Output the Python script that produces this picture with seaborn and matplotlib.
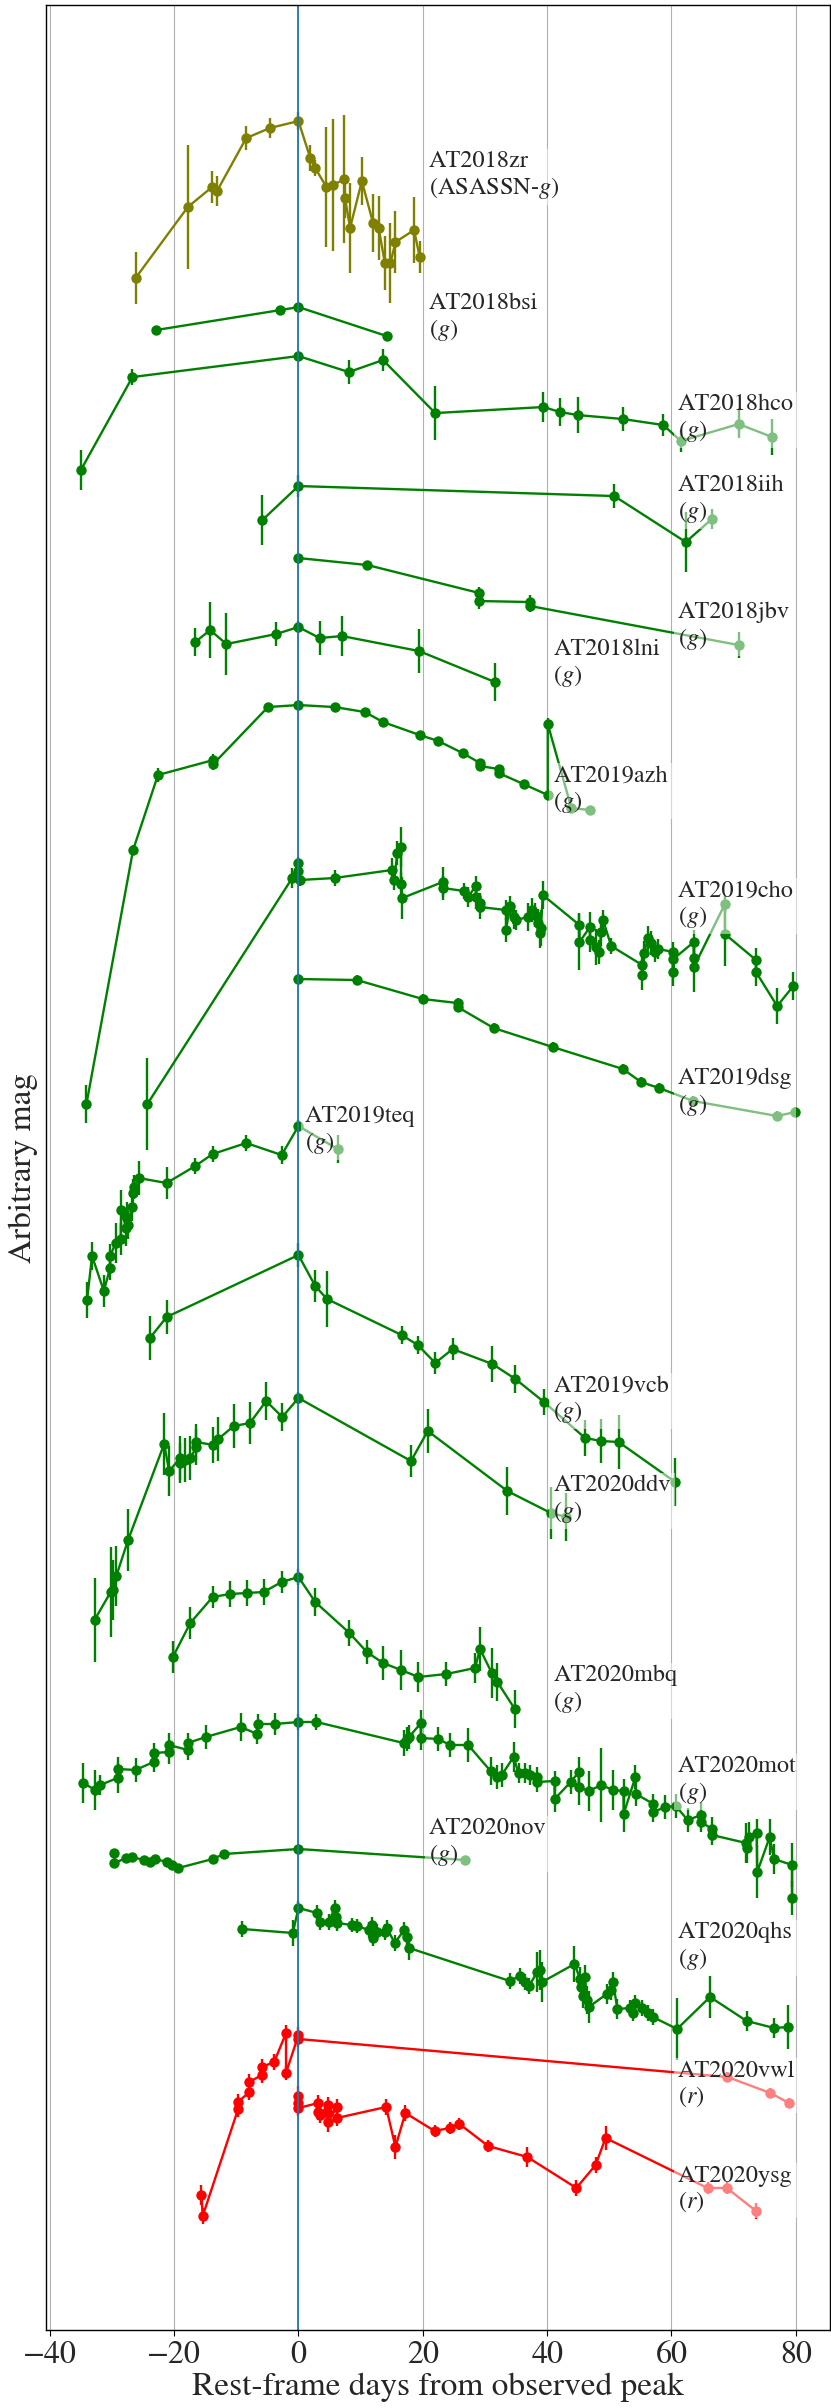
import matplotlib
matplotlib.use("Agg")
import matplotlib.pyplot as plt
import seaborn as sns

# light curves: rest-frame days from peak, arbitrary mag (offset per object), error

zr_t = [-26.2, -17.8, -13.9, -13.1, -8.4, -4.6, 0.0, 1.9, 2.7, 4.5, 5.6, 7.4, 7.5, 8.3, 10.2, 12.0, 12.9, 13.9, 14.8, 15.6, 18.6, 19.5]
zr_m = [278, 207, 187, 191, 138, 128, 121, 158, 168, 187, 185, 179, 198, 228, 181, 223, 228, 263, 263, 242, 230, 257]
zr_e = [26, 62, 16, 15, 12, 10, 9, 13, 8, 60, 66, 64, 20, 45, 24, 29, 32, 27, 40, 31, 33, 16]

bsi_t = [-22.9, -2.9, 0.0, 14.2]
bsi_m = [330, 310, 307, 336]
bsi_e = [3, 3, 3, 3]

hco_t = [-35.0, -26.7, 0.0, 8.1, 13.6, 22.0, 39.4, 42.1, 44.9, 52.2, 58.7, 61.5, 70.8, 76.2]
hco_m = [470, 377, 356, 372, 360, 413, 407, 412, 415, 419, 425, 441, 424, 437]
hco_e = [20, 8, 4, 12, 11, 27, 15, 14, 18, 12, 11, 11, 14, 18]

iih_t = [-5.8, 0.0, 50.8, 62.3, 66.5]
iih_m = [520, 486, 496, 542, 519]
iih_e = [25, 11, 12, 30, 10]

jbv_t = [0.0, 11.1, 29.1, 29.1, 37.3, 37.3, 70.8]
jbv_m = [558, 565, 593, 601, 602, 606, 645]
jbv_e = [4, 4, 6, 8, 7, 6, 13]

lni_t = [-16.6, -14.2, -11.6, -3.6, 0.0, 3.4, 7.0, 19.4, 31.6]
lni_m = [642, 630, 644, 634, 627, 638, 636, 651, 682]
lni_e = [14, 28, 31, 12, 6, 17, 20, 22, 19]

azh_t = [-34.1, -26.6, -22.6, -13.7, -13.7, -4.9, 0.0, 5.8, 10.7, 13.6, 19.5, 22.5, 26.4, 29.2, 29.2, 32.2, 32.2, 36.2, 40.1, 40.1, 43.9, 46.9]
azh_m = [1104, 850, 775, 760, 764, 707, 705, 707, 712, 722, 735, 741, 753, 763, 766, 769, 773, 784, 795, 724, 808, 810]
azh_e = [19, 5, 7, 6, 6, 4, 4, 4, 4, 4, 4, 4, 4, 4, 4, 4, 4, 4, 4, 6, 4, 4]

cho_t = [-24.3, -1.0, 0.0, 0.0, 0.2, 5.8, 15.0, 15.4, 15.9, 16.5, 16.5, 16.7, 23.2, 23.2, 26.7, 27.3, 28.5, 28.6,
         29.2, 29.2, 33.4, 33.4, 34.0, 34.7, 35.0, 36.9, 37.6, 38.0, 38.6, 38.8, 39.0, 39.3, 45.2, 45.2, 46.9,
         46.9, 47.8, 48.4, 48.7, 49.0, 50.3, 55.3, 55.3, 55.6, 56.2, 56.7, 57.3, 57.9, 60.3, 60.3, 60.3, 63.6,
         63.6, 63.6, 68.6, 68.6, 73.6, 73.6, 77.0, 79.6]
cho_m = [1104, 878, 863, 871, 880, 878, 870, 880, 853, 847, 884, 898, 882, 888, 891, 897, 886, 897,
         903, 907, 910, 930, 906, 917, 920, 917, 910, 915, 923, 933, 928, 895, 925, 942, 927,
         940, 947, 952, 932, 920, 946, 965, 975, 953, 938, 943, 952, 949, 952, 972, 959, 942,
         958, 967, 904, 934, 960, 972, 1006, 986]
cho_e = [46, 10, 6, 6, 6, 8, 12, 10, 12, 20, 12, 21, 15, 12, 8, 10, 10, 12,
         10, 12, 10, 12, 10, 12, 10, 14, 12, 12, 14, 15, 18, 14, 12, 28, 15,
         12, 18, 12, 14, 10, 8, 12, 15, 12, 12, 12, 10, 10, 10, 14, 10, 12,
         14, 25, 8, 32, 12, 14, 18, 14]

dsg_t = [0.0, 9.4, 20.0, 25.6, 25.6, 31.4, 40.9, 52.2, 55.1, 58.0, 63.5, 77.0, 79.9]
dsg_m = [979, 980, 999, 1003, 1007, 1028, 1047, 1069, 1082, 1088, 1101, 1116, 1112]
dsg_e = [5, 5, 5, 5, 5, 5, 5, 5, 5, 5, 5, 5, 5]

teq_t = [-34.0, -33.2, -31.3, -30.3, -30.3, -29.4, -28.6, -28.5, -27.7, -27.6, -27.4, -26.8, -26.6, -26.4, -25.7, -21.2, -16.6, -13.8, -8.4, -2.7, 0.0, 6.3]
teq_m = [1300, 1256, 1291, 1268, 1256, 1243, 1239, 1210, 1228, 1218, 1225, 1207, 1193, 1187, 1178, 1183, 1166, 1154, 1143, 1155, 1126, 1149]
teq_e = [18, 14, 16, 12, 12, 20, 16, 20, 18, 16, 14, 14, 14, 12, 17, 16, 8, 8, 8, 9, 6, 14]

vcb_t = [-23.9, -21.2, 0.0, 2.7, 4.6, 16.6, 19.2, 22.0, 24.8, 31.2, 34.9, 39.5, 46.1, 48.7, 51.5, 60.6]
vcb_m = [1338, 1317, 1255, 1286, 1299, 1335, 1345, 1363, 1349, 1364, 1379, 1402, 1438, 1441, 1442, 1482]
vcb_e = [22, 17, 12, 16, 28, 9, 9, 11, 11, 18, 14, 13, 18, 22, 27, 24]

ddv_t = [-32.8, -30.2, -29.9, -29.3, -27.4, -21.6, -20.8, -19.0, -19.0, -18.2, -17.4, -16.4, -16.4, -13.7, -12.9, -10.4, -7.8, -5.2, -2.6, 0.0, 18.1, 20.8, 33.6, 40.6, 43.1]
ddv_m = [1620, 1592, 1590, 1576, 1540, 1444, 1471, 1458, 1463, 1460, 1458, 1447, 1442, 1445, 1439, 1426, 1423, 1401, 1417, 1398, 1461, 1431, 1491, 1513, 1517]
ddv_e = [42, 45, 30, 30, 31, 31, 25, 22, 20, 22, 22, 18, 18, 18, 22, 22, 21, 19, 14, 6, 16, 22, 24, 26, 24]

mbq_t = [-20.2, -17.4, -13.8, -11.0, -8.3, -5.6, -2.7, 0.0, 2.7, 8.2, 11.0, 13.6, 16.5, 19.3, 23.8, 28.4, 29.2, 31.1, 32.0, 34.8]
mbq_m = [1657, 1623, 1597, 1594, 1593, 1592, 1582, 1577, 1602, 1633, 1652, 1663, 1670, 1677, 1674, 1668, 1649, 1673, 1682, 1709]
mbq_e = [16, 16, 11, 13, 13, 13, 11, 8, 14, 13, 12, 17, 20, 15, 12, 15, 22, 25, 19, 19]

mot_t = [-34.6, -32.7, -31.9, -29.1, -29.0, -26.2, -23.3, -23.3, -20.8, -20.8, -17.8, -17.8, -14.9, -9.3, -6.6,
         -6.5, -3.8, 0.0, 2.9, 16.9, 17.4, 17.8, 19.7, 19.7, 22.5, 24.4, 27.3, 30.9, 32.0, 32.7, 34.6, 35.4,
         36.5, 37.2, 38.3, 38.4, 41.2, 41.2, 43.8, 45.1, 45.1, 46.7, 48.7, 50.6, 52.3, 52.3, 54.2, 54.3, 57.1,
         57.1, 59.0, 60.7, 62.6, 64.8, 64.8, 66.5, 66.5, 72.0, 72.2, 72.4, 73.7, 73.8, 75.8, 76.5, 79.4, 79.4]
mot_m = [1783, 1790, 1785, 1778, 1769, 1770, 1762, 1753, 1752, 1745, 1750, 1743, 1737, 1727, 1734,
         1724, 1724, 1722, 1722, 1743, 1739, 1737, 1723, 1738, 1739, 1745, 1745, 1771, 1777, 1775, 1757, 1773,
         1773, 1775, 1777, 1782, 1781, 1799, 1782, 1772, 1787, 1791, 1785, 1790, 1791, 1814, 1777, 1794, 1804,
         1812, 1807, 1806, 1820, 1815, 1822, 1829, 1835, 1843, 1848, 1837, 1833, 1872, 1837, 1859, 1865, 1898]
mot_e = [20, 20, 10, 15, 12, 12, 10, 10, 12, 12, 10, 10, 12, 14, 10,
         10, 11, 8, 8, 13, 12, 12, 13, 12, 12, 12, 17, 14, 12, 12, 15, 10,
         10, 10, 10, 10, 10, 13, 12, 15, 18, 20, 37, 20, 12, 18, 12, 12, 10,
         10, 12, 12, 12, 13, 10, 12, 10, 20, 15, 15, 14, 26, 18, 15, 22, 17]

nov_t = [-29.6, -29.6, -27.7, -26.8, -24.9, -23.9, -23.0, -21.2, -20.4, -19.3, -13.8, -12.0, 0.0, 26.8]
nov_m = [1853, 1863, 1858, 1857, 1860, 1862, 1859, 1862, 1865, 1868, 1859, 1854, 1849, 1860]
nov_e = [4, 4, 4, 4, 4, 4, 4, 4, 4, 4, 4, 4, 4, 4]

qhs_t = [-9.0, -0.9, 0.0, 3.0, 3.5, 4.9, 5.8, 6.0, 6.2, 8.6, 9.4, 11.3, 11.9, 12.0, 12.7, 13.9, 14.2, 15.5, 17.0,
         17.4, 17.8, 34.0, 35.6, 36.4, 37.1, 38.4, 38.8, 39.2, 44.4, 45.3, 45.5, 45.7, 46.1, 46.4, 46.7, 49.6,
         50.2, 50.6, 51.3, 53.3, 53.8, 54.2, 55.3, 56.2, 57.0, 60.9, 66.2, 72.1, 76.5, 78.8]
qhs_m = [1929, 1933, 1908, 1913, 1922, 1922, 1908, 1917, 1923, 1925, 1926, 1930, 1925, 1938, 1932, 1932, 1928, 1943, 1930,
         1937, 1948, 1981, 1976, 1982, 1986, 1972, 1970, 1982, 1964, 1979, 1987, 1996, 1977, 2000, 2007, 1994,
         1990, 1982, 2009, 2008, 2013, 2003, 2008, 2013, 2017, 2029, 1997, 2021, 2028, 2027]
qhs_e = [8, 13, 7, 8, 8, 8, 8, 8, 8, 7, 7, 8, 8, 8, 8, 8, 8, 8, 8,
         8, 12, 8, 8, 8, 8, 20, 20, 20, 18, 12, 12, 12, 12, 14, 16, 10,
         10, 10, 10, 8, 8, 8, 8, 8, 8, 31, 21, 10, 10, 22]

vwl_t = [-15.6, -15.4, -9.7, -9.7, -7.9, -7.9, -5.9, -5.9, -3.9, -2.0, -2.0, 0.0, 0.0, 69.0, 75.9, 78.9]
vwl_m = [2195, 2216, 2109, 2102, 2092, 2082, 2075, 2067, 2062, 2033, 2073, 2035, 2039, 2077, 2093, 2103]
vwl_e = [10, 8, 8, 8, 8, 8, 8, 8, 8, 8, 7, 8, 8, 5, 5, 5]

ysg_t = [0.0, 0.0, 0.0, 3.2, 3.2, 3.5, 4.7, 4.7, 4.7, 6.2, 6.2, 14.1, 15.6, 17.2, 21.9, 24.3, 25.9, 30.5, 36.8, 44.7, 47.8, 49.4, 65.8, 68.9, 73.6]
ysg_m = [2096, 2103, 2108, 2103, 2112, 2115, 2105, 2113, 2122, 2107, 2118, 2107, 2147, 2113, 2131, 2128, 2124, 2146, 2157, 2188, 2165, 2138, 2188, 2188, 2211]
ysg_e = [10, 8, 8, 8, 8, 8, 8, 8, 10, 8, 8, 8, 12, 8, 6, 6, 6, 6, 10, 8, 8, 12, 6, 6, 8]

names = ["AT2018zr", "AT2018bsi", "AT2018hco", "AT2018iih", "AT2018jbv", "AT2018lni", "AT2019azh",
         "AT2019cho", "AT2019dsg", "AT2019teq", "AT2019vcb", "AT2020ddv", "AT2020mbq", "AT2020mot",
         "AT2020nov", "AT2020qhs", "AT2020vwl", "AT2020ysg"]
bands = ["ASASSN-g", "g", "g", "g", "g", "g", "g", "g", "g", "g", "g", "g", "g", "g", "g", "g", "r", "r"]

curves = [(zr_t, zr_m, zr_e), (bsi_t, bsi_m, bsi_e), (hco_t, hco_m, hco_e), (iih_t, iih_m, iih_e),
          (jbv_t, jbv_m, jbv_e), (lni_t, lni_m, lni_e), (azh_t, azh_m, azh_e), (cho_t, cho_m, cho_e),
          (dsg_t, dsg_m, dsg_e), (teq_t, teq_m, teq_e), (vcb_t, vcb_m, vcb_e), (ddv_t, ddv_m, ddv_e),
          (mbq_t, mbq_m, mbq_e), (mot_t, mot_m, mot_e), (nov_t, nov_m, nov_e), (qhs_t, qhs_m, qhs_e),
          (vwl_t, vwl_m, vwl_e), (ysg_t, ysg_m, ysg_e)]

# where each name tag sits (days, mag)
label_x = [21, 21, 61, 61, 61, 41, 41, 61, 61, 1, 41, 41, 41, 61, 21, 61, 61, 61]
label_y = [176, 318, 419, 500, 627, 664, 790, 905, 1093, 1131, 1400, 1500, 1690, 1781, 1843, 1947, 2085, 2190]

band_colors = {"ASASSN-g": "#808000", "g": "#008000", "r": "#ff0000"}

sns.set_theme(style="ticks")
plt.rcParams["font.family"] = ["STIXGeneral", "DejaVu Serif"]
plt.rcParams["mathtext.fontset"] = "stix"

fig = plt.figure(figsize=(8.31, 24.08), dpi=100)
ax = fig.add_axes([0.0554, 0.0324, 0.9434, 0.9655])

for name, band, (t, m, e), lx, ly in zip(names, bands, curves, label_x, label_y):
    col = band_colors[band]
    ax.errorbar(t, m, yerr=e, fmt="none", ecolor=col, elinewidth=1.7, capsize=0, zorder=2)
    sns.lineplot(x=t, y=m, sort=False, estimator=None, errorbar=None, color=col,
                 marker="o", markersize=7.5, markeredgewidth=0, lw=1.7, ax=ax, zorder=2)
    band_txt = band.replace("g", "$g$").replace("r", "$r$")
    ax.text(lx, ly, f"{name}\n({band_txt})", fontsize=17.5, ha="left", va="center",
            linespacing=1.15, zorder=3,
            bbox=dict(facecolor="white", alpha=0.5, edgecolor="none", pad=3))

ax.axvline(0, color="#1f77b4", lw=1.3, zorder=2.5)

ax.set_xlim(-40.6, 85.5)
ax.set_ylim(2330, 5)
ax.set_yticks([])
ax.set_xticks([-40, -20, 0, 20, 40, 60, 80])
ax.grid(axis="x", color="#b0b0b0", lw=0.8)
ax.set_axisbelow(True)
for sp in ax.spines.values():
    sp.set_color("black")
    sp.set_linewidth(1.0)
ax.tick_params(axis="x", labelsize=23, direction="out", length=4, width=0.8, color="black")
ax.set_xlabel("Rest-frame days from observed peak", fontsize=24, labelpad=2)
ax.set_ylabel("Arbitrary mag", fontsize=24, labelpad=6)

fig.savefig("out.png", dpi=100)
